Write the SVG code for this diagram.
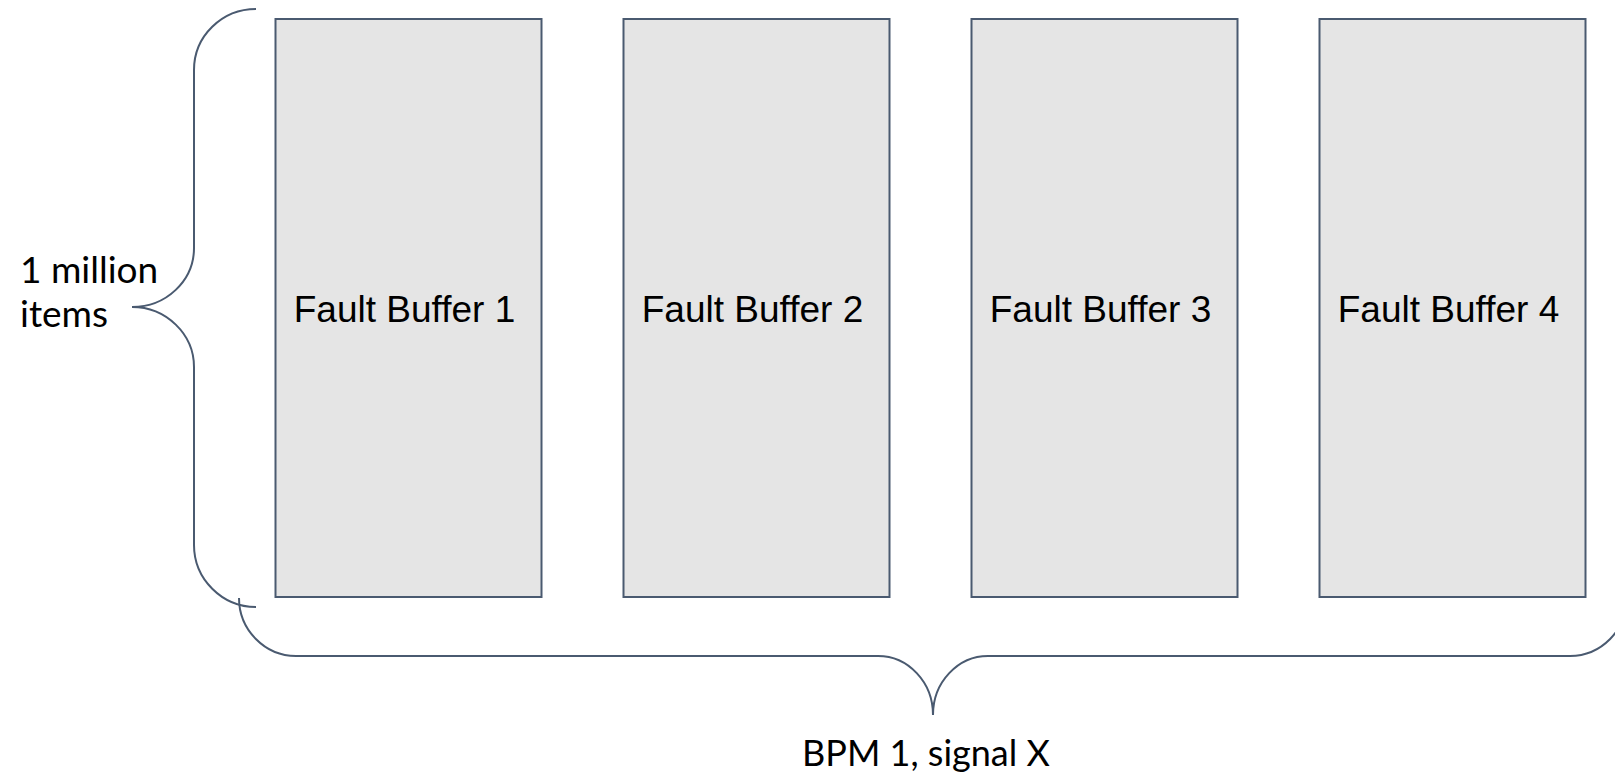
<svg xmlns="http://www.w3.org/2000/svg" width="1615" height="772" viewBox="0 0 1615 772">
  <style>
    .buf { fill: #e5e5e5; stroke: #4a5a70; stroke-width: 2; }
    .buf-label { font-family: "Liberation Sans", Arial, sans-serif; font-size: 37px; fill: #000; text-anchor: middle; }
    .brace { fill: none; stroke: #4a5a70; stroke-width: 2; }
    .note { font-family: Lato, "Noto Sans", sans-serif; font-size: 37px; fill: #000; }
    .note-small { font-size: 36px; }
  </style>
  <rect width="1615" height="772" fill="#fff"/>

  <g id="fault-buffer-1">
    <rect class="buf" x="275.5" y="19" width="266" height="578"/>
    <text class="buf-label" x="404.5" y="322">Fault Buffer 1</text>
  </g>
  <g id="fault-buffer-2">
    <rect class="buf" x="623.5" y="19" width="266" height="578"/>
    <text class="buf-label" x="752.5" y="322">Fault Buffer 2</text>
  </g>
  <g id="fault-buffer-3">
    <rect class="buf" x="971.5" y="19" width="266" height="578"/>
    <text class="buf-label" x="1100.5" y="322">Fault Buffer 3</text>
  </g>
  <g id="fault-buffer-4">
    <rect class="buf" x="1319.5" y="19" width="266" height="578"/>
    <text class="buf-label" x="1448.5" y="322">Fault Buffer 4</text>
  </g>

  <g id="connectors">
    <!-- vertical brace spanning the buffer height -->
    <path class="brace" d="M 256 9 C 222 9 194 36 194 70 L 194 248 C 194 281 166 307 132 307 C 166 307 194 334 194 367 L 194 545 C 194 579 222 607 256 607"/>
    <!-- horizontal brace spanning all buffers -->
    <path class="brace" d="M 239 598 C 239 630 265 656 296 656 L 878 656 C 908 656 933 682 933 715 C 933 682 958 656 988 656 L 1570 656 C 1601 656 1627 630 1627 598"/>
  </g>

  <g id="labels">
    <text class="note" x="20" y="283">1 million</text>
    <text class="note" x="20" y="327">items</text>
    <text class="note note-small" x="802" y="766">BPM 1, signal X</text>
  </g>
</svg>
